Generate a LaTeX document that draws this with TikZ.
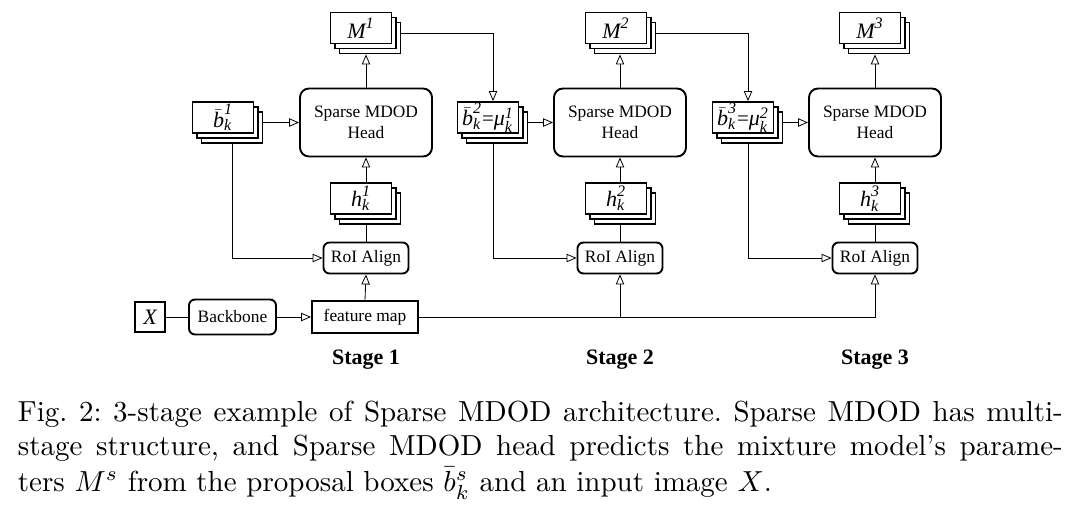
\documentclass[tikz,border=0pt]{standalone}
\usepackage{fontspec}
\newfontfamily\tms{Liberation Serif}
\usetikzlibrary{arrows.meta,backgrounds}
\newcommand{\vi}[1]{\mbox{\tms\itshape\fontsize{11}{11}\selectfont #1}}
\newcommand{\vs}[1]{\mbox{\tms\itshape\fontsize{8}{8}\selectfont #1}}
\newcommand{\veq}{\mbox{\tms\fontsize{10.5}{10.5}\selectfont =}}
\newcommand{\capline}[1]{\scalebox{1.45}{\fontsize{10}{12}\selectfont\frenchspacing #1}}
% two back layers of a stack whose front box is centred at (#1,#2)
\newcommand{\stackback}[2]{%
  \draw[fill=white] ({#1-21.5},{#2-5.5}) rectangle ++(61,31);
  \draw[fill=white] ({#1-26},{#2-10.5}) rectangle ++(61,31);}
\begin{document}
\begin{tikzpicture}[x=0.5pt,y=-0.5pt,line width=0.95pt,
  box/.style={draw,fill=white,inner sep=0pt,font=\tms\fontsize{8.7}{10.5}\selectfont},
  rbox/.style={box,rounded corners=3pt},
  headbox/.style={box,rounded corners=4.5pt,minimum width=66pt,minimum height=34pt,align=center},
  stk/.style={box,minimum width=30.5pt,minimum height=15.5pt},
  roibox/.style={rbox,minimum width=42.5pt,minimum height=15.5pt},
  arr/.style={-{Triangle[open,length=5pt,width=4.2pt]}},
  stg/.style={font=\tms\bfseries\fontsize{11}{13}\selectfont},
  captext/.style={anchor=base west,inner sep=0pt}]
\useasboundingbox (0,0) rectangle (1080,504);

% ---- stage 1
\stackback{361}{28}
\node[stk] (m1) at (361,28) {$\vi{M}^{\vs{1}}$};
\node[headbox] (head1) at (366,122.5) {Sparse MDOD\\Head};
\stackback{223}{117.5}
\node[stk] (b1) at (223,117.5) {$\bar{\vi{b}}^{\vs{1}}_{\vs{k}}$};
\stackback{361}{198.5}
\node[stk] (h1) at (361,198.5) {$\vi{h}^{\vs{1}}_{\vs{k}}$};
\node[roibox] (roi1) at (366,258) {RoI Align};

% ---- stage 2
\stackback{616}{28}
\node[stk] (m2) at (616,28) {$\vi{M}^{\vs{2}}$};
\node[headbox] (head2) at (620,122.5) {Sparse MDOD\\Head};
\stackback{488}{117.5}
\node[stk] (b2) at (488,117.5) {$\bar{\vi{b}}^{\vs{2}}_{\vs{k}}\veq\vi{μ}^{\vs{1}}_{\vs{k}}$};
\stackback{616}{198.5}
\node[stk] (h2) at (616,198.5) {$\vi{h}^{\vs{2}}_{\vs{k}}$};
\node[roibox] (roi2) at (620,258) {RoI Align};

% ---- stage 3
\stackback{870}{28}
\node[stk] (m3) at (870,28) {$\vi{M}^{\vs{3}}$};
\node[headbox] (head3) at (875,122.5) {Sparse MDOD\\Head};
\stackback{743}{117.5}
\node[stk] (b3) at (743,117.5) {$\bar{\vi{b}}^{\vs{3}}_{\vs{k}}\veq\vi{μ}^{\vs{2}}_{\vs{k}}$};
\stackback{870}{198.5}
\node[stk] (h3) at (870,198.5) {$\vi{h}^{\vs{3}}_{\vs{k}}$};
\node[roibox] (roi3) at (875,258) {RoI Align};

% ---- input row
\node[box,minimum width=15pt,minimum height=15pt] (x) at (150,317) {$\vi{X}$};
\node[rbox,minimum width=43.5pt,minimum height=17.5pt] (bb) at (232.5,317) {Backbone};
\node[box,minimum width=53pt,minimum height=16pt] (fm) at (365,317) {feature map};

% ---- stage labels
\node[stg] (s1) at (366,360) {Stage 1};
\node[stg] (s2) at (620,360) {Stage 2};
\node[stg] (s3) at (875,360) {Stage 3};

% ---- connectors
\begin{scope}[on background layer]
  \draw (x.east) -- (bb.west);
  \draw[arr] (bb.east) -- (fm.west);
  \draw[arr] (fm.north) -- (roi1.south);
  \draw[arr] (fm.east) -| (roi3.south);
  \draw[arr] (roi2.south |- fm.east) -- (roi2.south);
  \foreach \i/\dx in {1/4.5pt,2/2.5pt,3/2.5pt}{
    \draw (roi\i.north) -- (roi\i.north |- h\i.south);
    \draw[arr] (head\i.south |- h\i.north) -- (head\i.south);
    \draw[arr] (head\i.north) -- ([yshift=-5pt]head\i.north |- m\i.south);
    \draw[arr] (b\i.east |- head\i.west) -- (head\i.west);
    \draw[arr] ([xshift=\dx]b\i.south) |- (roi\i.west);
  }
  \draw[arr] ([yshift=-2.5pt]m1.east) -| ([xshift=2.5pt]b2.north);
  \draw[arr] ([yshift=-2.5pt]m2.east) -| ([xshift=2.5pt]b3.north);
\end{scope}

% ---- caption
\node[captext] (c1) at (17,421) {\capline{\makebox[360.3pt][s]{Fig.~2: 3-stage example of Sparse MDOD architecture. Sparse MDOD has multi-}}};
\node[captext] (c2) at (17,455.5) {\capline{\makebox[360.3pt][s]{stage structure, and Sparse MDOD head predicts the mixture model's parame-}}};
\node[captext] (c3) at (17,491.5) {\capline{ters $M^s$ from the proposal boxes $\bar{b}^s_k$ and an input image $X$.}};
\end{tikzpicture}
\end{document}
